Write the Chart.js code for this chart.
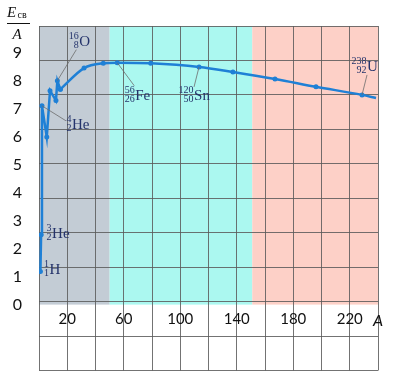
<!DOCTYPE html>
<html>
<head>
<meta charset="utf-8">
<script src="https://cdn.jsdelivr.net/npm/chart.js@4.4.1/dist/chart.umd.min.js"></script>
<style>
  html, body { margin: 0; padding: 0; background: #fff; }
  #wrap { width: 393px; height: 373px; position: relative; }
</style>
</head>
<body>
<div id="wrap"><canvas id="bindingChart"></canvas></div>
<script>
// values
const massNumbers = [1, 1.5, 2.1, 5.5, 7.8, 12, 13, 15.1, 31.9, 45.5, 55.4, 79.1, 113.3, 137.3, 167.1, 196.1, 228.7, 238.6];
const bindingEnergies = [1.18, 2.5, 7.11, 5.99, 7.65, 7.3, 8.01, 7.7, 8.46, 8.63, 8.65, 8.63, 8.5, 8.32, 8.07, 7.79, 7.5, 7.39];
const xTickLabels = [20, 60, 100, 140, 180, 220];
const yTickLabels = [0, 1, 2, 3, 4, 5, 6, 7, 8, 9];
const regionBounds = [0, 50, 151, 240];
const regionColors = ['#c3ccd5', '#abf8f0', '#fdd0c7'];

// nuclide labels: which point they belong to
const nuclides = [
    { mass: '1', charge: '1', symbol: 'H', point: 0 },
    { mass: '3', charge: '2', symbol: 'He', point: 1 },
    { mass: '4', charge: '2', symbol: 'He', point: 2 },
    { mass: '16', charge: '8', symbol: 'O', point: 6 },
    { mass: '56', charge: '26', symbol: 'Fe', point: 10 },
    { mass: '120', charge: '50', symbol: 'Sn', point: 12 },
    { mass: '238', charge: '92', symbol: 'U', point: 16 }
];
// label offsets from the point in px: [text dx, text dy, leader dx, leader dy]
const labelOffsets = [
    [9, 2, 0, 0],
    [11, 3, 0, 0],
    [30, 23, 24, 15],
    [22, -35, 19, -31],
    [18, 37, 17, 23],
    [-5, 33, -5, 20],
    [5, -24, 5, -20]
];

const lineColor = '#1f80d6';
const gridColor = 'rgba(90, 90, 90, 0.85)';
const splitAt = 7; // straight zigzag for light nuclei, smooth curve after

const toPoints = (from, to) => massNumbers.slice(from, to).map((a, i) => ({ x: a, y: bindingEnergies[from + i] }));

const regionsPlugin = {
    id: 'regions',
    beforeDraw(chart) {
        const { ctx, chartArea, scales: { x, y } } = chart;
        const bottom = y.getPixelForValue(0);
        ctx.save();
        for (let i = 0; i < regionColors.length; i++) {
            const left = x.getPixelForValue(regionBounds[i]);
            const right = x.getPixelForValue(regionBounds[i + 1]);
            ctx.fillStyle = regionColors[i];
            ctx.fillRect(left, chartArea.top, right - left, bottom - chartArea.top);
        }
        ctx.restore();
    }
};

function drawNuclide(ctx, lx, base, n) {
    ctx.fillStyle = '#24336b';
    ctx.font = '15px "Liberation Serif"';
    ctx.textAlign = 'left';
    ctx.textBaseline = 'alphabetic';
    ctx.fillText(n.symbol, lx, base);
    ctx.font = '10px "Liberation Serif"';
    ctx.textAlign = 'right';
    ctx.fillText(n.mass, lx - 0.5, base - 6.5);
    ctx.fillText(n.charge, lx - 0.5, base + 2.5);
}

const labelsPlugin = {
    id: 'labels',
    afterDatasetsDraw(chart) {
        const { ctx, chartArea, scales: { x, y } } = chart;
        ctx.save();
        nuclides.forEach((n, i) => {
            const px = x.getPixelForValue(massNumbers[n.point]);
            const py = y.getPixelForValue(bindingEnergies[n.point]);
            const [tdx, tdy, ldx, ldy] = labelOffsets[i];
            if (ldx || ldy) {
                ctx.strokeStyle = '#6c6c6c';
                ctx.lineWidth = 0.8;
                ctx.beginPath();
                ctx.moveTo(px, py);
                ctx.lineTo(px + ldx, py + ldy);
                ctx.stroke();
            }
            drawNuclide(ctx, px + tdx, py + tdy, n);
        });

        // y axis title: E_св / A
        ctx.fillStyle = '#111';
        ctx.textAlign = 'left';
        ctx.textBaseline = 'alphabetic';
        ctx.font = 'italic 15px "Liberation Serif"';
        ctx.fillText('E', 7, 17);
        ctx.font = '10px "Liberation Serif"';
        ctx.fillText('св', 17.5, 18);
        ctx.strokeStyle = '#111';
        ctx.lineWidth = 1;
        ctx.beginPath();
        ctx.moveTo(7, 23.5);
        ctx.lineTo(30, 23.5);
        ctx.stroke();
        ctx.font = 'italic 15px "Liberation Serif"';
        ctx.fillText('A', 12.5, 39);

        // x axis title
        ctx.font = 'italic 16px Lato';
        ctx.textAlign = 'center';
        ctx.textBaseline = 'middle';
        ctx.fillText('A', chartArea.right, y.getPixelForValue(0) + 16);
        ctx.restore();
    }
};

const lineStyle = {
    borderColor: lineColor,
    backgroundColor: lineColor,
    borderWidth: 2.5,
    pointRadius: 2.5,
    pointHoverRadius: 2.5,
    pointBorderWidth: 0,
    fill: false
};

new Chart(document.getElementById('bindingChart'), {
    type: 'line',
    data: {
        datasets: [
            { ...lineStyle, data: toPoints(0, splitAt + 1), tension: 0 },
            {
                ...lineStyle,
                data: toPoints(splitAt, massNumbers.length),
                cubicInterpolationMode: 'monotone',
                pointRadius: ctx => ctx.dataIndex === massNumbers.length - splitAt - 1 ? 0 : 2.5
            }
        ]
    },
    options: {
        responsive: true,
        maintainAspectRatio: false,
        animation: false,
        events: [],
        layout: { padding: { top: 26, bottom: 2, left: 0, right: 0 } },
        plugins: { legend: { display: false }, tooltip: { enabled: false } },
        scales: {
            x: {
                type: 'linear',
                min: 0,
                max: 240,
                position: { y: 0 },
                grid: { color: gridColor, lineWidth: 1, drawTicks: false },
                border: { display: false },
                afterFit: s => { s.height = 0; s.paddingLeft = 0; s.paddingRight = 0; },
                ticks: {
                    stepSize: 20,
                    padding: 6,
                    maxRotation: 0,
                    autoSkip: false,
                    color: '#111',
                    font: { family: 'Lato', size: 15 },
                    callback: v => xTickLabels.includes(v) ? String(v) : ''
                }
            },
            y: {
                type: 'linear',
                position: 'left',
                min: -2.357,
                max: 9.964,
                grid: { display: false, drawTicks: false },
                border: { display: false },
                afterFit: s => { s.width = 39; s.paddingTop = 0; s.paddingBottom = 0; },
                ticks: {
                    stepSize: 1,
                    padding: 17,
                    color: '#111',
                    font: { family: 'Lato', size: 16 },
                    callback: v => yTickLabels.includes(v) ? String(v) : ''
                }
            },
            g: {
                type: 'linear',
                position: 'right',
                min: 0,
                max: 10,
                grid: { color: gridColor, lineWidth: 1, drawTicks: false },
                border: { display: false },
                afterFit: s => { s.width = 15; },
                ticks: { stepSize: 1, display: false }
            }
        }
    },
    plugins: [regionsPlugin, labelsPlugin]
});
</script>
</body>
</html>
